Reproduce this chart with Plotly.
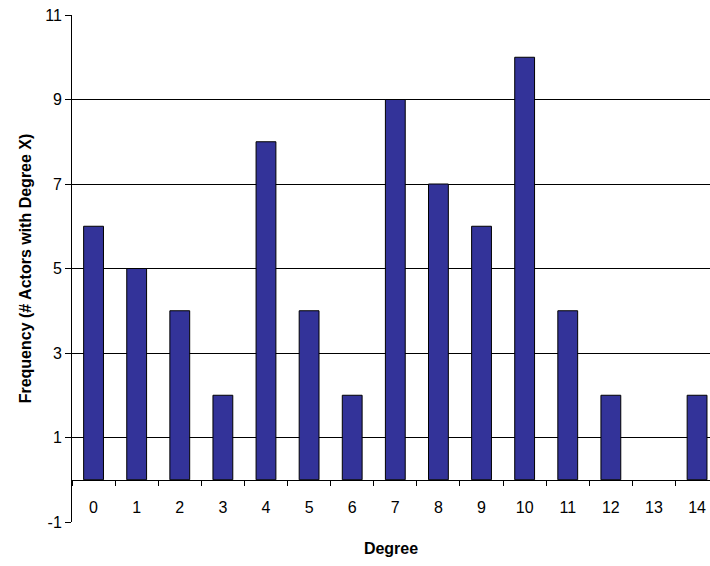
import plotly.graph_objects as go

degrees = [str(i) for i in range(15)]
frequency = [6, 5, 4, 2, 8, 4, 2, 9, 7, 6, 10, 4, 2, 0, 2]
y_ticks = [-1, 1, 3, 5, 7, 9, 11]
y_tick_labels = ["-1", "1", "3", "5", "7", "9", "11"]

outline_widths = [0 if v == 0 else 1 for v in frequency]

fig = go.Figure(
    go.Bar(
        x=degrees,
        y=frequency,
        width=0.46,
        marker=dict(color="#333399", line=dict(color="#000000", width=outline_widths)),
    )
)

font_family = "Liberation Sans, Arial, sans-serif"

fig.update_layout(
    width=710,
    height=566,
    margin=dict(l=72, r=0, t=15, b=44, autoexpand=False),
    paper_bgcolor="white",
    plot_bgcolor="white",
    showlegend=False,
    font=dict(family=font_family, size=16, color="#000000"),
    xaxis=dict(
        type="category",
        range=[-0.5, 14.3],
        anchor="free",
        position=1 / 12,
        automargin=False,
        showline=True,
        linecolor="#000000",
        linewidth=1,
        tickson="boundaries",
        ticks="outside",
        ticklen=5,
        tickcolor="#000000",
        showgrid=False,
        ticklabelstandoff=13,
        tickfont=dict(size=16),
        title=dict(text="<b>Degree</b>", font=dict(size=16), standoff=27),
    ),
    yaxis=dict(
        range=[-1, 11],
        tickvals=y_ticks,
        ticktext=y_tick_labels,
        automargin=False,
        showline=True,
        linecolor="#000000",
        linewidth=1,
        ticks="outside",
        ticklen=6,
        tickcolor="#000000",
        showgrid=True,
        gridcolor="#000000",
        gridwidth=1,
        zeroline=False,
        tickfont=dict(size=16),
        title=dict(text="<b>Frequency (# Actors with Degree X)</b>", font=dict(size=16), standoff=9),
    ),
)

fig.write_html(
    "out.html",
    config={"displayModeBar": False},
    post_script="document.body.style.margin='0px';document.body.style.overflow='hidden';",
)
